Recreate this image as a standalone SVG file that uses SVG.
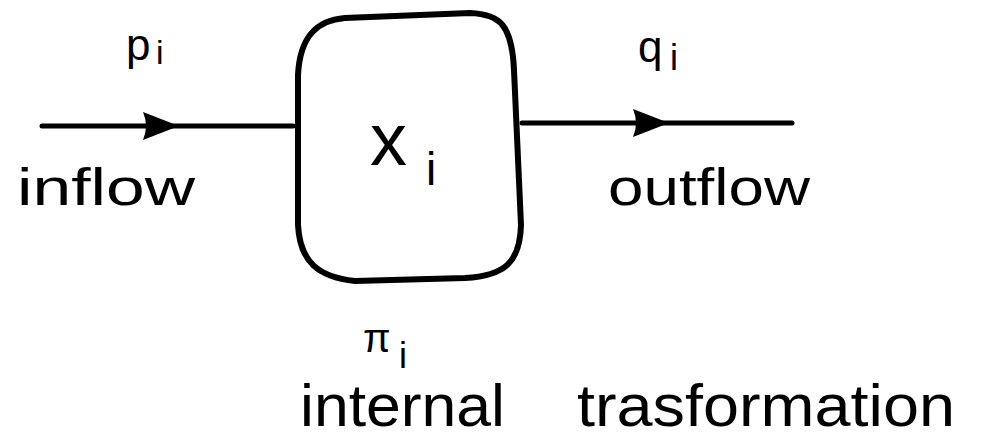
<svg xmlns="http://www.w3.org/2000/svg" width="984" height="442" viewBox="0 0 984 442">
<style>
  .t { font-family: "Liberation Sans", Arial, sans-serif; fill: #000; }
  .line { stroke: #000; stroke-width: 5; fill: none; stroke-linecap: round; }
  .box { stroke: #000; stroke-width: 6; fill: #fff; }
</style>
<defs>
  <marker id="arr" markerUnits="userSpaceOnUse" viewBox="0 0 36 28" refX="34" refY="14" markerWidth="36" markerHeight="28" orient="auto">
    <path d="M0,0 L36,14 L0,28 Q6,14 0,0 Z" fill="#000"/>
  </marker>
</defs>
<rect width="984" height="442" fill="#fff"/>
<g id="connectors">
  <path class="line" d="M 42 126 L 177 126 L 293 126" marker-mid="url(#arr)"/>
  <path class="line" d="M 522 123 L 667 123 L 792 123" marker-mid="url(#arr)"/>
</g>
<g id="node-x">
  <path class="box" d="M 298 75 C 300 35, 318 20, 345 18 L 470 13 C 500 14, 512 25, 514 70 L 521 225 C 520 262, 505 276, 465 278 L 355 281 C 318 277, 300 262, 298 225 Z"/>
  <text class="t" x="370" y="165" font-size="74">x</text>
  <text class="t" x="426" y="185" font-size="46">i</text>
</g>
<g id="label-inflow">
  <text class="t" x="126" y="60" font-size="44">p</text>
  <text class="t" x="156" y="64" font-size="34">i</text>
  <text class="t" x="17" y="205" font-size="52" textLength="178" lengthAdjust="spacingAndGlyphs">inflow</text>
</g>
<g id="label-outflow">
  <text class="t" x="638" y="62" font-size="44">q</text>
  <text class="t" x="670" y="70" font-size="36">i</text>
  <text class="t" x="608" y="205" font-size="52" textLength="202" lengthAdjust="spacingAndGlyphs">outflow</text>
</g>
<g id="label-internal">
  <text class="t" x="363" y="352" font-size="40">π</text>
  <text class="t" x="399" y="368" font-size="36">i</text>
  <text class="t" x="300" y="426" font-size="60" textLength="205" lengthAdjust="spacingAndGlyphs">internal</text>
  <text class="t" x="577" y="426" font-size="60" textLength="378" lengthAdjust="spacingAndGlyphs">trasformation</text>
</g>
</svg>
